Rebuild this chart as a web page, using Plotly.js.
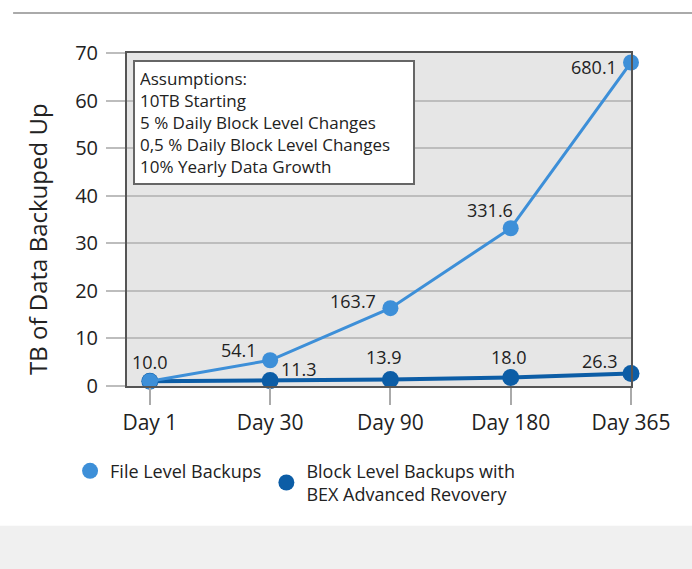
<!DOCTYPE html>
<html>
<head>
<meta charset="utf-8">
<script src="https://cdn.plot.ly/plotly-3.0.1.min.js"></script>
<style>html,body{margin:0;padding:0;background:#fff;}#chart{width:692px;height:569px;}</style>
</head>
<body>
<div id="chart"></div>
<script>
// Data
const categories = ["Day 1", "Day 30", "Day 90", "Day 180", "Day 365"];
const fileValues = [1.0, 5.41, 16.37, 33.16, 68.01];
const fileLabels = ["10.0", "54.1", "163.7", "331.6", "680.1"];
const blockValues = [1.0, 1.13, 1.39, 1.80, 2.63];
const blockLabels = ["", "11.3", "13.9", "18.0", "26.3"];
const yTicks = [0, 10, 20, 30, 40, 50, 60, 70];
const seriesNames = ["File Level Backups", "Block Level Backups with<br>BEX Advanced Revovery"];
const yTitle = "TB of Data Backuped Up";
const assumptions = ["Assumptions:", "10TB Starting", "5 % Daily Block Level Changes", "0,5 % Daily Block Level Changes", "10% Yearly Data Growth"];

// label offsets in px (style only)
const fileShift = [[0, 19], [-31, 10], [-37, 7], [-21, 18], [-37, -5]];
const blockShift = [[0, 0], [29, 12], [-6, 22], [-2, 20], [-31, 12]];

const fileColor = "#3d8fd8";
const blockColor = "#0c5da6";
const font = "'Open Sans', Roboto, sans-serif";
const txt = "#222";

const traces = [
  {
    x: categories, y: blockValues, name: seriesNames[1],
    mode: "lines+markers", showlegend: false, cliponaxis: false,
    line: {color: blockColor, width: 4}, marker: {color: blockColor, size: 17}
  },
  {
    x: categories, y: fileValues, name: seriesNames[0],
    mode: "lines+markers", showlegend: false, cliponaxis: false,
    line: {color: fileColor, width: 3}, marker: {color: fileColor, size: 16}
  },
  {
    x: [null], y: [null], name: seriesNames[0], mode: "markers",
    marker: {color: fileColor, size: 16}, showlegend: true
  },
  {
    x: [null], y: [null], name: seriesNames[1], mode: "markers",
    marker: {color: blockColor, size: 16}, showlegend: true
  }
];

const annotations = [];
function addLabels(vals, labels, shifts) {
  for (let i = 0; i < categories.length; i++) {
    if (!labels[i]) continue;
    annotations.push({
      x: categories[i], y: vals[i], xref: "x", yref: "y",
      text: labels[i], showarrow: false,
      xanchor: "center", yanchor: "middle",
      xshift: shifts[i][0], yshift: shifts[i][1],
      font: {family: font, size: 18, color: txt}
    });
  }
}
addLabels(fileValues, fileLabels, fileShift);
addLabels(blockValues, blockLabels, blockShift);

annotations.push({
  xref: "paper", yref: "paper", x: 0.012, y: 0.978, xanchor: "left", yanchor: "top",
  text: assumptions.join("<br>"), showarrow: false, align: "left",
  font: {family: font, size: 17, color: txt},
  bgcolor: "#ffffff", bordercolor: "#666", borderwidth: 2, borderpad: 5,
  width: 268
});

annotations.push({
  xref: "paper", yref: "paper", x: -0.179, y: 0.441, xanchor: "center", yanchor: "middle",
  text: yTitle, textangle: -90, showarrow: false,
  font: {family: font, size: 24, color: txt}
});

const layout = {
  width: 692, height: 569,
  margin: {l: 127, r: 61, t: 53, b: 183},
  paper_bgcolor: "#ffffff",
  plot_bgcolor: "#e6e6e6",
  font: {family: font, color: txt, size: 18},
  showlegend: true,
  legend: {
    orientation: "h", x: -0.113, xanchor: "left", y: -0.2, yanchor: "top",
    font: {family: font, size: 18, color: txt},
    itemwidth: 30, traceorder: "normal",
    bgcolor: "rgba(0,0,0,0)"
  },
  xaxis: {
    type: "category", range: [-0.19, 4.0],
    showgrid: false, zeroline: false,
    showline: true, linecolor: "#555", linewidth: 2, mirror: true,
    ticks: "outside", ticklen: 17, tickwidth: 2, tickcolor: "#aaa",
    tickfont: {family: font, size: 21, color: txt}
  },
  yaxis: {
    range: [0, 70], tickvals: yTicks,
    showgrid: true, gridcolor: "#bdbdbd", gridwidth: 2, zeroline: false,
    showline: true, linecolor: "#555", linewidth: 2, mirror: true,
    ticks: "outside", ticklen: 19, tickwidth: 2, tickcolor: "#bdbdbd",
    ticklabelstandoff: 4,
    tickfont: {family: font, size: 20, color: txt}
  },
  annotations: annotations,
  shapes: [
    {type: "line", xref: "paper", yref: "paper", x0: -0.226, x1: 1.2, y0: 1.12, y1: 1.12,
     line: {color: "#aaaaaa", width: 2}, layer: "below"},
    {type: "rect", xref: "paper", yref: "paper", x0: -0.3, x1: 1.2, y0: -0.42, y1: -0.6,
     fillcolor: "#f0f0f0", line: {width: 0}, layer: "below"}
  ]
};

Plotly.newPlot("chart", traces, layout, {displayModeBar: false, staticPlot: true});
</script>
</body>
</html>
